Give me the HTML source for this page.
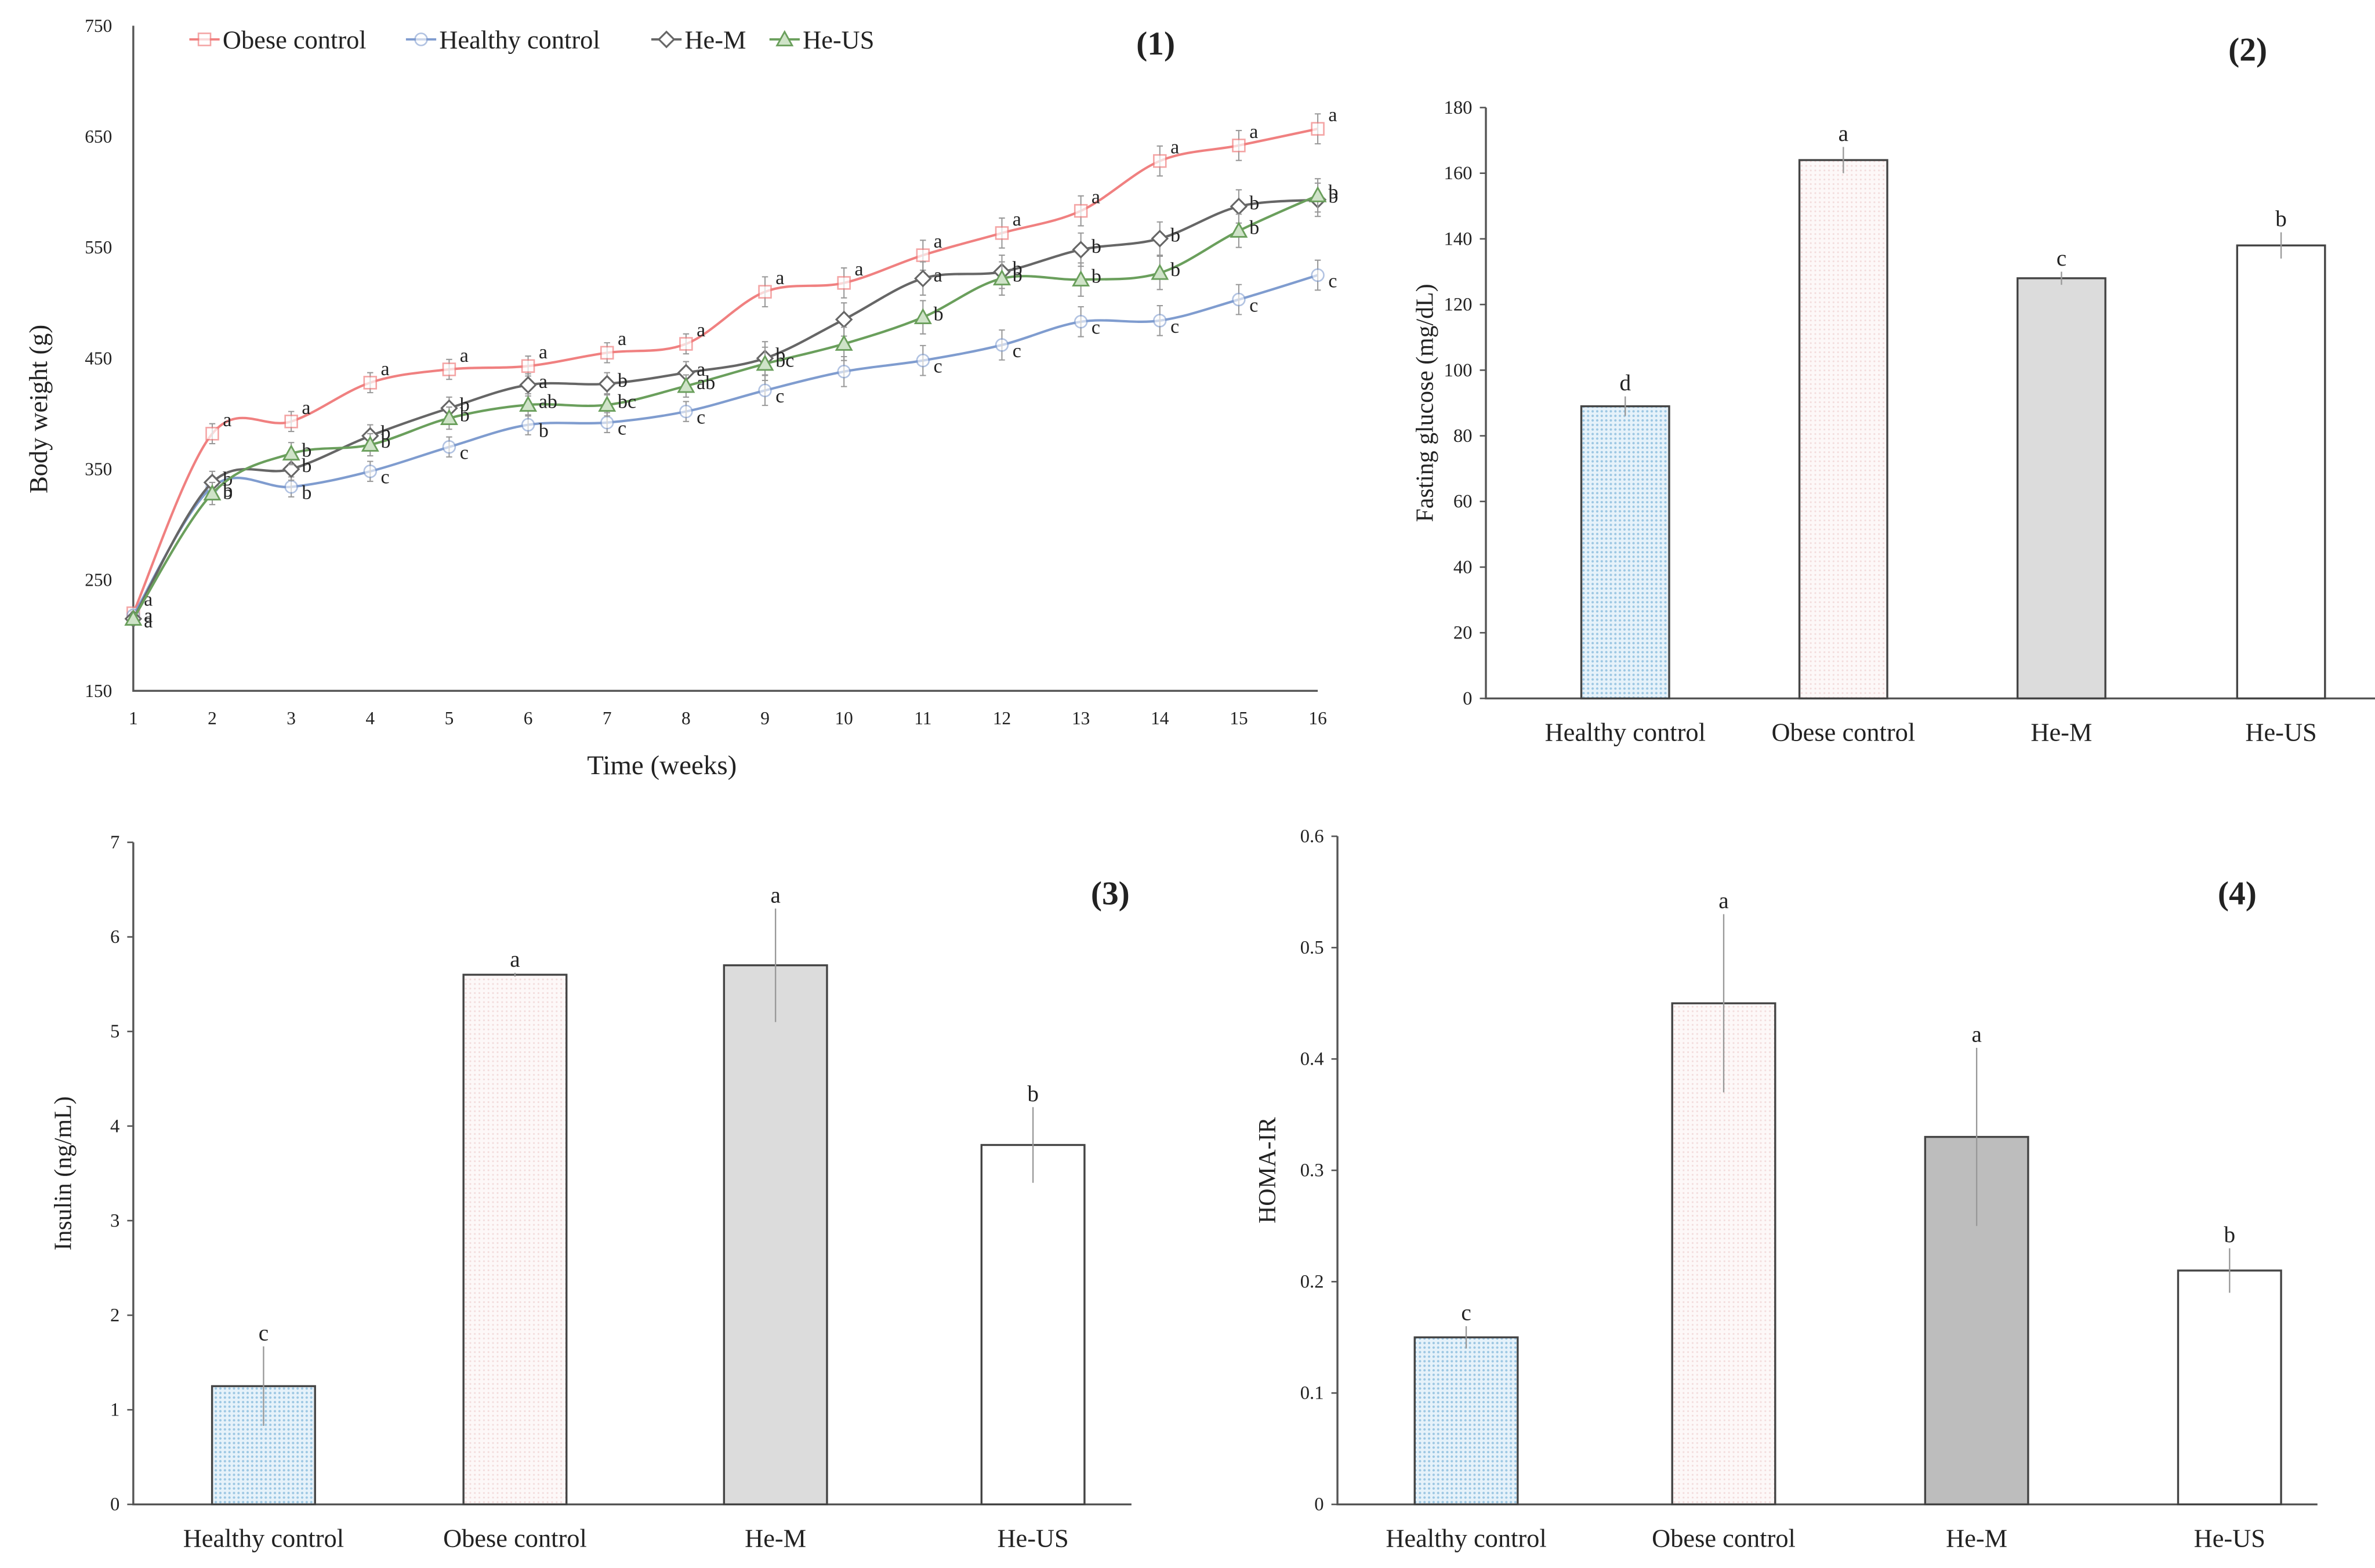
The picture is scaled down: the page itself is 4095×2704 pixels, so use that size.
<!DOCTYPE html>
<html><head><meta charset="utf-8"><style>
html,body{margin:0;padding:0;background:#fff}
svg{display:block}
text{font-family:"Liberation Serif",serif;fill:#222}
</style></head><body>
<svg id="fig" width="4095" height="2704" viewBox="0 0 1568 1035" preserveAspectRatio="none" xmlns="http://www.w3.org/2000/svg">
<defs>
<pattern id="pBlue" width="3" height="3" patternUnits="userSpaceOnUse"><rect width="3" height="3" fill="#e6f2fa"/><circle cx="1.5" cy="1.5" r="0.8" fill="#9cc7e3"/></pattern>
<pattern id="pPink" width="3" height="3" patternUnits="userSpaceOnUse"><rect width="3" height="3" fill="#fdf8f8"/><circle cx="1.5" cy="1.5" r="0.6" fill="#f3dcdc"/></pattern>
</defs>
<g id="p1"></g>
<g id="p2"></g>
<g id="p3"></g>
<g id="p4"></g>
</svg>
<script>
// ---- Panel 1 data ----
const weeks = [1,2,3,4,5,6,7,8,9,10,11,12,13,14,15,16];
const obeseW   = [220,382,393,428,440,443,455,463,510,518,543,563,583,628,642,657];
const healthyW = [218,334,334,348,370,390,392,402,421,438,448,462,483,484,503,525];
const heMW     = [215,338,350,380,405,426,427,437,450,485,522,528,548,558,587,593];
const heUSW    = [215,328,364,372,396,408,408,425,445,463,487,522,521,527,565,597];
const obeseL   = ["a","a","a","a","a","a","a","a","a","a","a","a","a","a","a","a"];
const healthyL = ["a","b","b","c","c","b","c","c","c","","c","c","c","c","c","c"];
const heML     = ["a","b","b","b","b","a","b","a","b","","a","b","b","b","b","b"];
const heUSL    = ["a","b","b","b","b","ab","bc","ab","bc","","b","b","b","b","b","b"];
const p1Ticks = [150,250,350,450,550,650,750];
// ---- Bar data ----
const groups = ["Healthy control","Obese control","He-M","He-US"];
const glucose = [89,164,128,138];
const glucoseErr = [3,4,2,4];
const glucoseLet = ["d","a","c","b"];
const glucoseTicks = [0,20,40,60,80,100,120,140,160,180];
const insulin = [1.25,5.6,5.7,3.8];
const insulinErr = [0.42,0.02,0.6,0.4];
const insulinLet = ["c","a","a","b"];
const insulinTicks = [0,1,2,3,4,5,6,7];
const homa = [0.15,0.45,0.33,0.21];
const homaErr = [0.01,0.08,0.08,0.02];
const homaLet = ["c","a","a","b"];
const homaTicks = [0,0.1,0.2,0.3,0.4,0.5,0.6];

const NS="http://www.w3.org/2000/svg";
function mk(parent,tag,attrs,txt){const e=document.createElementNS(NS,tag);for(const k in attrs)e.setAttribute(k,attrs[k]);if(txt!==undefined)e.textContent=txt;parent.appendChild(e);return e;}

// ---- Panel 1 ----
(function(){
  const g=document.getElementById('p1');
  const x0=88,x1=870,yTop=17,yBot=456;
  const xs=w=>x0+(w-1)*(x1-x0)/15;
  const ys=v=>yBot-(v-150)*(yBot-yTop)/600;
  let ax=mk(g,'path',{d:`M${x0},${yTop} V${yBot} H${x1}`,stroke:'#555',fill:'none','stroke-width':1.3});
  
  
  p1Ticks.forEach(t=>{let e=mk(g,'text',{x:x0-14,y:ys(t)+4,'font-size':12,'text-anchor':'end'},t);
    });
  weeks.forEach(w=>{let e=mk(g,'text',{x:xs(w),y:yBot+22,'font-size':12,'text-anchor':'middle'},w);
    });
  let yt=mk(g,'text',{x:0,y:0,'font-size':17,'text-anchor':'middle',transform:`translate(31,270) rotate(-90)`},'Body weight (g)');
  
  let xt=mk(g,'text',{x:437,y:511,'font-size':18,'text-anchor':'middle'},'Time (weeks)');
  
  let pl=mk(g,'text',{x:763,y:36,'font-size':22,'font-weight':'bold','text-anchor':'middle'},'(1)');
  
  const series=[
    {v:obeseW,l:obeseL,c:'#f08080',m:'sq',name:'obese'},
    {v:healthyW,l:healthyL,c:'#7f9ccf',m:'ci',name:'healthy'},
    {v:heMW,l:heML,c:'#666',m:'di',name:'he-m'},
    {v:heUSW,l:heUSL,c:'#6a9f5c',m:'tr',name:'he-us'}];
  function smooth(pts){let d=`M${pts[0][0]},${pts[0][1]}`;
    for(let i=0;i<pts.length-1;i++){const p0=pts[i-1]||pts[i],p1=pts[i],p2=pts[i+1],p3=pts[i+2]||p2;
      d+=` C${p1[0]+(p2[0]-p0[0])/6},${p1[1]+(p2[1]-p0[1])/6} ${p2[0]-(p3[0]-p1[0])/6},${p2[1]-(p3[1]-p1[1])/6} ${p2[0]},${p2[1]}`;}
    return d;}
  function marker(par,m,x,y,c){
    if(m==='sq')return mk(par,'rect',{x:x-4,y:y-4,width:8,height:8,fill:'#fff',stroke:c,'stroke-width':1,opacity:0.7});
    if(m==='ci')return mk(par,'circle',{cx:x,cy:y,r:4,fill:'#fff',stroke:c,'stroke-width':1,opacity:0.6});
    if(m==='di')return mk(par,'path',{d:`M${x},${y-5} L${x+5},${y} L${x},${y+5} L${x-5},${y} Z`,fill:'#fff',stroke:c,'stroke-width':1.2});
    return mk(par,'path',{d:`M${x},${y-5} L${x+5},${y+4} L${x-5},${y+4} Z`,fill:'#cfe3c8',stroke:c,'stroke-width':1.1});
  }
  series.forEach((s,si)=>{
    const sg=mk(g,'g',{});
    
    
    const pts=weeks.map((w,i)=>[xs(w),ys(s.v[i])]);
    let ln=mk(sg,'path',{d:smooth(pts),fill:'none',stroke:s.c,'stroke-width':1.6});
    
    weeks.forEach((w,i)=>{
      const x=xs(w),y=ys(s.v[i]),e=(i===0?4:(i>7?15:10))*(si===2||si===3?1:0.9);
      let eb=mk(sg,'path',{d:`M${x},${ys(s.v[i]+e)} V${ys(s.v[i]-e)} M${x-2},${ys(s.v[i]+e)} h4 M${x-2},${ys(s.v[i]-e)} h4`,stroke:'#999','stroke-width':0.8,fill:'none'});
      
      let mm=marker(sg,s.m,x,y,s.c);
      
      if(s.l[i]){let lt=mk(sg,'text',{x:x+7,y:y+(si===0?-5:(si===1?8:2)),'font-size':13},s.l[i]);
        }
    });
  });
  const leg=[['Obese control','#f08080','sq',125],['Healthy control','#7f9ccf','ci',268],['He-M','#666','di',430],['He-US','#6a9f5c','tr',508]];
  leg.forEach(L=>{const lg=mk(g,'g',{});
    
    mk(lg,'line',{x1:L[3],x2:L[3]+20,y1:26,y2:26,stroke:L[1],'stroke-width':1.5});
    marker(lg,L[2],L[3]+10,26,L[1]);
    mk(lg,'text',{x:L[3]+22,y:32,'font-size':17},L[0]);});
})();

// ---- Bar panels ----
function barPanel(id,cfg){
  const g=document.getElementById(id);
  const ys=v=>cfg.yBot-(v/cfg.max)*(cfg.yBot-cfg.yTop);
  let ax=mk(g,'path',{d:`M${cfg.ax},${cfg.yTop} V${cfg.yBot} H${cfg.axEnd}`,stroke:'#555',fill:'none','stroke-width':1.3});
  
  cfg.ticks.forEach(t=>{
    mk(g,'line',{x1:cfg.ax-4,x2:cfg.ax,y1:ys(t),y2:ys(t),stroke:'#555'});
    let e=mk(g,'text',{x:cfg.ax-9,y:ys(t)+4,'font-size':12.5,'text-anchor':'end'},String(t));
    });
  groups.forEach((name,i)=>{
    const cx=cfg.centers[i],w=cfg.bw,v=cfg.vals[i],er=cfg.errs[i];
    let b=mk(g,'rect',{x:cx-w/2,y:ys(v),width:w,height:cfg.yBot-ys(v),fill:cfg.fills[i],stroke:'#444','stroke-width':1.3});
    
    let eb=mk(g,'line',{x1:cx,x2:cx,y1:ys(v+er),y2:ys(v-er),stroke:'#999','stroke-width':0.9});
    
    let lt=mk(g,'text',{x:cx,y:ys(v+er)-4,'font-size':15,'text-anchor':'middle'},cfg.lets[i]);
    
    let cl=mk(g,'text',{x:cx,y:cfg.yBot+28,'font-size':17,'text-anchor':'middle'},name);
    
  });
  let yt=mk(g,'text',{x:0,y:0,'font-size':16,'text-anchor':'middle',transform:`translate(${cfg.titleX},${(cfg.yTop+cfg.yBot)/2}) rotate(-90)`},cfg.title);
  
  let pl=mk(g,'text',{x:cfg.plX,y:cfg.plY,'font-size':22,'font-weight':'bold','text-anchor':'middle'},cfg.pl);
  
}
barPanel('p2',{ax:981,axEnd:1568,yTop:71,yBot:461,max:180,ticks:glucoseTicks,vals:glucose,errs:glucoseErr,lets:glucoseLet,
  centers:[1073,1217,1361,1506],bw:58,fills:['url(#pBlue)','url(#pPink)','#dcdcdc','#fff'],title:'Fasting glucose (mg/dL)',titleX:946,pl:'(2)',plX:1484,plY:40});
barPanel('p3',{ax:88,axEnd:747,yTop:556,yBot:993,max:7,ticks:insulinTicks,vals:insulin,errs:insulinErr,lets:insulinLet,
  centers:[174,340,512,682],bw:68,fills:['url(#pBlue)','url(#pPink)','#dcdcdc','#fff'],title:'Insulin (ng/mL)',titleX:47,pl:'(3)',plX:733,plY:597});
barPanel('p4',{ax:883,axEnd:1530,yTop:552,yBot:993,max:0.6,ticks:homaTicks,vals:homa,errs:homaErr,lets:homaLet,
  centers:[968,1138,1305,1472],bw:68,fills:['url(#pBlue)','url(#pPink)','#bdbdbd','#fff'],title:'HOMA-IR',titleX:842,pl:'(4)',plX:1477,plY:597});
</script>
</body></html>
